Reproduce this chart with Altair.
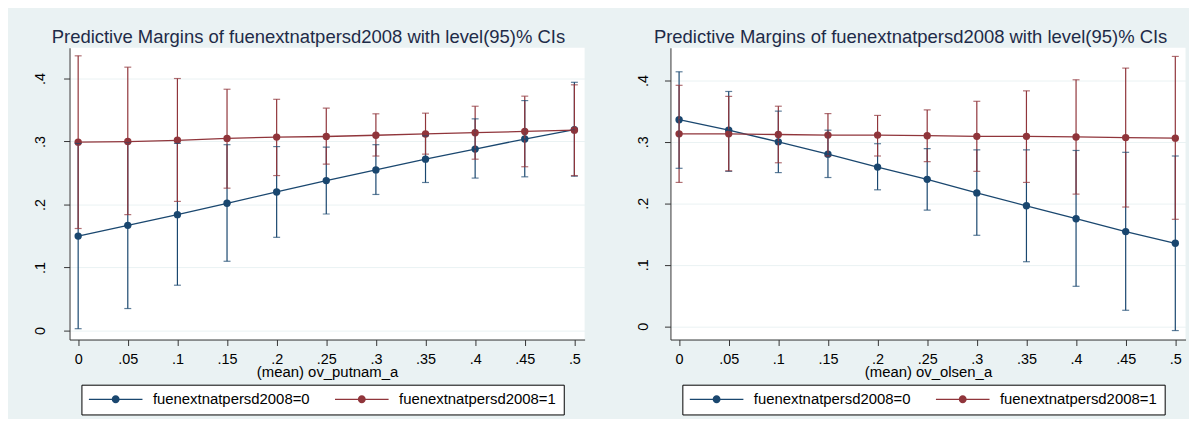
import altair as alt
import pandas as pd

# ---------------- data ----------------
x_vals = [0.0, 0.05, 0.1, 0.15, 0.2, 0.25, 0.3, 0.35, 0.4, 0.45, 0.5]
x_tick_labels = ["0", ".05", ".1", ".15", ".2", ".25", ".3", ".35", ".4", ".45", ".5"]
y_ticks = [0.0, 0.1, 0.2, 0.3, 0.4]
y_tick_labels = ["0", ".1", ".2", ".3", ".4"]

series_names = ["fuenextnatpersd2008=0", "fuenextnatpersd2008=1"]

# left panel: ov_putnam_a
putnam_m0 = [0.150, 0.167, 0.184, 0.202, 0.220, 0.238, 0.255, 0.272, 0.288, 0.304, 0.319]
putnam_lo0 = [0.003, 0.035, 0.072, 0.110, 0.148, 0.185, 0.216, 0.235, 0.242, 0.244, 0.245]
putnam_hi0 = [0.297, 0.299, 0.297, 0.295, 0.292, 0.291, 0.295, 0.309, 0.336, 0.365, 0.394]
putnam_m1 = [0.299, 0.300, 0.302, 0.305, 0.307, 0.308, 0.310, 0.312, 0.314, 0.316, 0.318]
putnam_lo1 = [0.162, 0.184, 0.205, 0.226, 0.246, 0.264, 0.277, 0.280, 0.272, 0.260, 0.246]
putnam_hi1 = [0.436, 0.418, 0.400, 0.383, 0.367, 0.353, 0.344, 0.345, 0.356, 0.372, 0.390]

# right panel: ov_olsen_a
olsen_m0 = [0.336, 0.319, 0.300, 0.280, 0.259, 0.239, 0.217, 0.196, 0.175, 0.154, 0.135]
olsen_lo0 = [0.257, 0.252, 0.250, 0.242, 0.222, 0.189, 0.148, 0.105, 0.065, 0.026, -0.007]
olsen_hi0 = [0.414, 0.382, 0.350, 0.319, 0.297, 0.289, 0.287, 0.287, 0.286, 0.283, 0.277]
olsen_m1 = [0.313, 0.313, 0.312, 0.311, 0.311, 0.310, 0.309, 0.309, 0.308, 0.307, 0.306]
olsen_lo1 = [0.234, 0.253, 0.266, 0.277, 0.277, 0.268, 0.252, 0.234, 0.215, 0.194, 0.174]
olsen_hi1 = [0.392, 0.374, 0.358, 0.346, 0.343, 0.352, 0.366, 0.383, 0.401, 0.420, 0.439]

title_text = "Predictive Margins of fuenextnatpersd2008 with level(95)% CIs"

# ---------------- style ----------------
FONT = "Liberation Sans"
NAVY = "#1A476F"
MAROON = "#90353B"
BG = "#EAF2F3"
TITLE_COLOR = "#1E2B48"

# legend key: a thin line with a dot in the middle (drawn to the right of a small slot)
KEY_PATH = ("M-1,-0.093L6.714,-0.093L6.714,0.093L-1,0.093Z "
            "M3.428,0A0.571,0.571,0,1,1,2.286,0A0.571,0.571,0,1,1,3.428,0Z")


def label_expr(values, labels):
    vals = ",".join(repr(v) for v in values)
    labs = ",".join("'" + s + "'" for s in labels)
    return f"[{labs}][indexof([{vals}], datum.value)]"


def make_df(m0, lo0, hi0, m1, lo1, hi1):
    rows = []
    for i, x in enumerate(x_vals):
        rows.append(dict(x=x, series=series_names[0], m=m0[i], lo=lo0[i], hi=hi0[i]))
    for i, x in enumerate(x_vals):
        rows.append(dict(x=x, series=series_names[1], m=m1[i], lo=lo1[i], hi=hi1[i]))
    return pd.DataFrame(rows)


def panel(df, xtitle, ydomain, ylabel_pad):
    xs = alt.Scale(domain=[-0.0087, 0.5103], nice=False, zero=False)
    ys = alt.Scale(domain=ydomain, nice=False, zero=False)
    xaxis = alt.Axis(values=x_vals, labelExpr=label_expr(x_vals, x_tick_labels),
                     title=xtitle, grid=False, tickSize=6, labelPadding=7,
                     titleY=37, titleBaseline="alphabetic")
    yaxis = alt.Axis(values=y_ticks, labelExpr=label_expr(y_ticks, y_tick_labels),
                     title=None, grid=True, tickSize=6, labelAngle=270,
                     labelAlign="center", labelBaseline="middle",
                     labelPadding=ylabel_pad)
    cscale = alt.Scale(domain=series_names, range=[NAVY, MAROON])
    legend = alt.Legend(title=None, orient="none", legendX=12, legendY=339.5,
                        direction="horizontal", symbolType=KEY_PATH, symbolSize=196,
                        symbolStrokeWidth=0, symbolOpacity=1, labelFontSize=15,
                        labelFont=FONT, labelColor="black", labelOffset=50,
                        columnPadding=24, padding=7, strokeColor="black",
                        fillColor="white", labelLimit=0, cornerRadius=0)
    color_leg = alt.Color("series:N", scale=cscale, legend=legend)
    color_nol = alt.Color("series:N", scale=cscale, legend=None)

    base = alt.Chart(df)
    pts = base.mark_point(filled=True, size=55, opacity=1).encode(
        x=alt.X("x:Q", scale=xs, axis=xaxis),
        y=alt.Y("m:Q", scale=ys, axis=yaxis),
        color=color_leg)
    bars = base.mark_rule(strokeWidth=1.2).encode(
        x="x:Q", y="lo:Q", y2="hi:Q", color=color_nol)
    cap_lo = base.mark_tick(orient="horizontal", size=7, thickness=1.2).encode(
        x="x:Q", y="lo:Q", color=color_nol)
    cap_hi = base.mark_tick(orient="horizontal", size=7, thickness=1.2).encode(
        x="x:Q", y="hi:Q", color=color_nol)
    line = base.mark_line(strokeWidth=1.3).encode(
        x="x:Q", y="m:Q", color=color_nol, detail="series:N")
    return alt.layer(pts, bars, cap_lo, cap_hi, line).properties(
        width=519, height=294,
        title=alt.TitleParams(title_text, fontSize=18.6, font=FONT, color=TITLE_COLOR,
                              fontWeight="normal", anchor="middle", frame="bounds",
                              offset=1.5))


left = panel(make_df(putnam_m0, putnam_lo0, putnam_hi0, putnam_m1, putnam_lo1, putnam_hi1),
             "(mean) ov_putnam_a", [-0.0142, 0.4488], 23.5)
right = panel(make_df(olsen_m0, olsen_lo0, olsen_hi0, olsen_m1, olsen_lo1, olsen_hi1),
              "(mean) ov_olsen_a", [-0.0216, 0.4531], 21)

chart = alt.hconcat(left, right, spacing=51.5).resolve_scale(
    color="independent", x="independent", y="independent"
).properties(
    background=BG,
    padding={"left": 24, "top": 17.5, "right": 3, "bottom": 2},
).configure_view(
    fill="white", strokeWidth=0
).configure_axis(
    labelFont=FONT, titleFont=FONT, labelFontSize=14.5, titleFontSize=15,
    labelColor="black", titleColor="black", titleFontWeight="normal",
    domainColor="#333333", domainWidth=1, tickColor="#333333", tickWidth=1,
    gridColor=BG, gridWidth=1
)

chart.save("out.html", embed_options={"renderer": "svg", "actions": False})
